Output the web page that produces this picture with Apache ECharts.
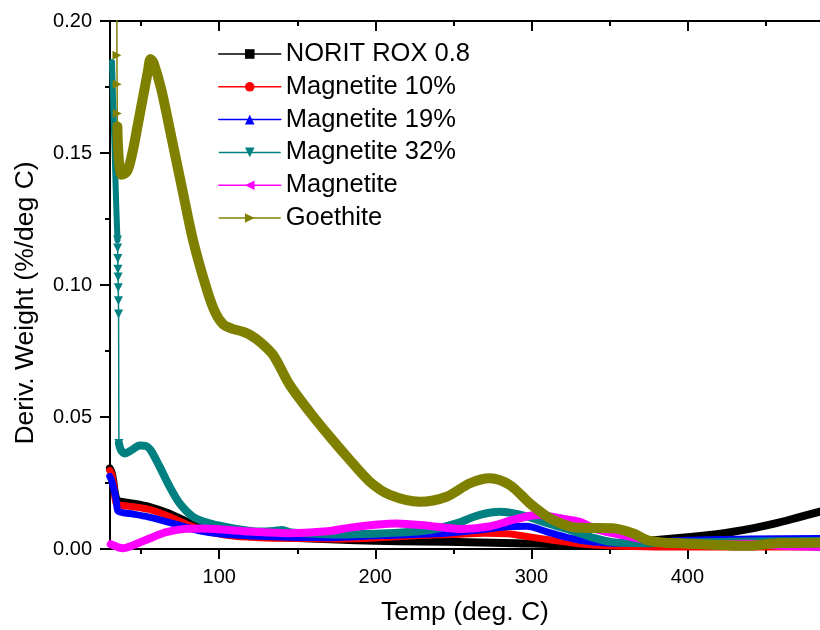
<!DOCTYPE html>
<html>
<head>
<meta charset="utf-8">
<title>DTG curves</title>
<script src="https://cdn.jsdelivr.net/npm/echarts@6/dist/echarts.min.js"></script>
<style>
  html, body { margin: 0; padding: 0; background: #ffffff; }
  #chart { width: 820px; height: 630px; }
</style>
</head>
<body>
<div id="chart"></div>
<script>
// Derivative weight curves, [temperature (deg C), deriv. weight (%/deg C)]
const noritRox08 = [
  [29.8, 0.0305], [31, 0.029], [32, 0.026], [33.2, 0.021], [34.5, 0.0185], [38, 0.0178],
  [45, 0.0172], [55, 0.016], [66, 0.0138], [76, 0.0112], [86, 0.0085], [97, 0.0066],
  [110, 0.0055], [130, 0.0046], [150, 0.0042], [175, 0.0036], [200, 0.0031], [230, 0.0028],
  [260, 0.0026], [290, 0.0022], [320, 0.0018], [350, 0.0019], [375, 0.0031], [400, 0.0045],
  [420, 0.0057], [440, 0.0076], [455, 0.0095], [470, 0.0118], [485, 0.0142]
];

const magnetite10 = [
  [29.8, 0.0298], [31, 0.0285], [32.5, 0.024], [34, 0.0172], [38, 0.0165], [45, 0.016],
  [55, 0.015], [66, 0.0128], [76, 0.0102], [86, 0.0078], [97, 0.006], [110, 0.0048],
  [130, 0.0042], [150, 0.004], [175, 0.0038], [200, 0.0042], [225, 0.005], [250, 0.0055],
  [270, 0.006], [285, 0.0058], [300, 0.0045], [315, 0.0032], [330, 0.002], [350, 0.0012],
  [380, 0.0008], [420, 0.0008], [485, 0.0008]
];

const magnetite19 = [
  [29.8, 0.0275], [31, 0.026], [32.5, 0.0225], [34, 0.0185], [35, 0.0145], [38, 0.0138],
  [45, 0.0132], [55, 0.0121], [66, 0.0104], [77, 0.0086], [88, 0.0068], [100, 0.0058],
  [110, 0.0053], [130, 0.0047], [150, 0.0044], [171, 0.0043], [200, 0.005], [225, 0.0055],
  [245, 0.006], [267, 0.0072], [286, 0.0085], [297, 0.0086], [310, 0.0065], [322, 0.0045],
  [335, 0.003], [352, 0.0022], [375, 0.0025], [400, 0.0033], [440, 0.0038], [485, 0.004]
];

// Magnetite 32%: dense fall, sparse readings, then the main curve
const magnetite32Fall = [
  [31.3, 0.1845], [32, 0.17], [33, 0.15], [34, 0.13], [34.8, 0.117]
];
const magnetite32Sparse = [
  [34.8, 0.117], [34.9, 0.114], [35, 0.110], [35.1, 0.106], [35.2, 0.103],
  [35.3, 0.099], [35.4, 0.094], [35.5, 0.089], [35.7, 0.040]
];
const magnetite32 = [
  [35.7, 0.040], [37, 0.0375], [39.4, 0.0362], [44, 0.0375], [49, 0.0392], [53, 0.039],
  [56, 0.0375], [61.8, 0.0312], [68.2, 0.0236], [74.6, 0.0173], [83.2, 0.0122],
  [93.9, 0.0097], [108.9, 0.0078], [123.9, 0.0066], [135, 0.0068], [140, 0.0072],
  [145, 0.0064], [155, 0.006], [175, 0.0055], [200, 0.0058], [215, 0.0062], [235, 0.0072],
  [252, 0.0097], [267, 0.0129], [280, 0.0141], [292.7, 0.013], [307.7, 0.0103],
  [324.8, 0.0072], [340, 0.0042], [352, 0.0026], [370, 0.0022], [400, 0.0025],
  [440, 0.0028], [485, 0.003]
];

const magnetite = [
  [30.5, 0.0018], [33, 0.0012], [36, 0.0005], [38.5, 0.0003], [42, 0.0008], [48, 0.0022],
  [55.4, 0.004], [66, 0.0064], [79, 0.0077], [90, 0.0078], [98, 0.0076], [110, 0.007],
  [120, 0.0066], [143, 0.006], [162, 0.0064], [171, 0.0068], [184, 0.0081], [200, 0.0092],
  [214, 0.0097], [235, 0.0087], [256, 0.0076], [273, 0.0085], [288, 0.011], [300, 0.0127],
  [305, 0.0129], [320, 0.0115], [331, 0.0103], [342, 0.0074], [363, 0.0047], [374, 0.0034],
  [390, 0.0022], [410, 0.0017], [440, 0.002], [460, 0.0012], [485, 0.0008]
];

// Goethite: sparse first readings, then the main curve
const goethiteSparse = [
  [34.3, 0.23], [34.45, 0.187], [34.55, 0.176], [34.65, 0.165], [34.75, 0.160]
];
const goethite = [
  [34.75, 0.160], [34.9, 0.156], [35.2, 0.152], [35.6, 0.148], [36.3, 0.144], [37.5, 0.1418],
  [39.5, 0.1422], [41.5, 0.1436], [44.7, 0.151], [47.9, 0.161], [51.1, 0.171], [54.3, 0.181],
  [56, 0.1856], [58, 0.184], [62.9, 0.174], [69.7, 0.155], [76.4, 0.136], [83.2, 0.117],
  [92.2, 0.098], [97.5, 0.0895], [102.4, 0.0852], [108, 0.0835], [115.3, 0.0823],
  [120, 0.081], [126, 0.0785], [134.5, 0.0735], [145.2, 0.0621], [158, 0.0519],
  [170.9, 0.0425], [183.7, 0.0337], [196.5, 0.0255], [209.4, 0.0205], [228.6, 0.0179],
  [245.7, 0.0198], [260.7, 0.0249], [273.5, 0.0268], [286.3, 0.0242], [299, 0.0173],
  [312, 0.0116], [324.8, 0.0085], [335, 0.008], [352, 0.0079], [365, 0.006], [374, 0.0034],
  [385, 0.0024], [395, 0.0022], [416, 0.0016], [438, 0.0012], [459, 0.0023], [485, 0.0024]
];

const xMajorTicks = [100, 200, 300, 400];
const xMinorTicks = [50, 150, 250, 350, 450];
const legendNames = ['NORIT ROX 0.8', 'Magnetite 10%', 'Magnetite 19%', 'Magnetite 32%', 'Magnetite', 'Goethite'];

const FONT = "'Liberation Sans', Arial, Helvetica, sans-serif";
const X_MIN = 30, X_MAX = 485;

const SYM_RIGHT = 'path://M0,0L10,5L0,10Z';
const SYM_LEFT = 'path://M10,0L0,5L10,10Z';
const SYM_DOWN = 'path://M0,0L10,0L5,10Z';

function xAxisDef(position, ticks, len, inside, withLine, withLabels, name) {
  return {
    type: 'value', position: position, min: X_MIN, max: X_MAX,
    name: name || '', nameLocation: 'middle', nameGap: 50,
    nameTextStyle: { fontFamily: FONT, fontSize: 26.5, color: '#000' },
    axisLine: { show: withLine, onZero: false, lineStyle: { color: '#000', width: 2 } },
    axisTick: { show: true, inside: inside, length: len, customValues: ticks, lineStyle: { color: '#000', width: 2 } },
    axisLabel: { show: withLabels, customValues: ticks, margin: 18, fontFamily: FONT, fontSize: 20, color: '#000' },
    splitLine: { show: false }
  };
}

function thick(name, data, color, symbol, width) {
  return {
    name: name, type: 'line', data: data, symbol: symbol, symbolSize: 9, showSymbol: false,
    smooth: 0.3,
    lineStyle: { color: color, width: width, cap: 'round', join: 'round' },
    itemStyle: { color: color }, emphasis: { disabled: true }
  };
}

function sparse(name, data, color, symbol) {
  return {
    name: name, type: 'line', data: data, symbol: symbol, symbolSize: 9, showSymbol: true,
    lineStyle: { color: color, width: 1.5 },
    itemStyle: { color: color }, emphasis: { disabled: true }
  };
}

const chart = echarts.init(document.getElementById('chart'), null, { renderer: 'canvas' });

chart.setOption({
  animation: false,
  backgroundColor: '#ffffff',
  grid: { left: 110, right: 0, top: 21, bottom: 81, containLabel: false, outerBoundsMode: 'none' },
  legend: {
    data: legendNames, orient: 'vertical', left: 218, top: 41, padding: 0,
    itemWidth: 62, itemHeight: 12, itemGap: 6.8,
    textStyle: { fontFamily: FONT, fontSize: 25.5, color: '#000', lineHeight: 25 },
    lineStyle: { width: 1.5 },
    selectedMode: false
  },
  xAxis: [
    xAxisDef('bottom', xMajorTicks, 10, false, true, true, 'Temp (deg. C)'),
    xAxisDef('bottom', xMinorTicks, 5, false, false, false),
    xAxisDef('top', xMajorTicks, 10, true, true, false),
    xAxisDef('top', xMinorTicks, 5, true, false, false)
  ],
  yAxis: {
    type: 'value', min: 0, max: 0.2, interval: 0.05,
    name: 'Deriv. Weight (%/deg C)', nameLocation: 'middle', nameGap: 71,
    nameTextStyle: { fontFamily: FONT, fontSize: 26.5, color: '#000', padding: [0, 36, 0, 0] },
    axisLine: { show: true, lineStyle: { color: '#000', width: 2 } },
    axisTick: { show: true, length: 10, lineStyle: { color: '#000', width: 2 } },
    minorTick: { show: true, splitNumber: 2, length: 5, lineStyle: { color: '#000', width: 2 } },
    axisLabel: { margin: 18, fontFamily: FONT, fontSize: 20, color: '#000', formatter: v => v.toFixed(2) },
    splitLine: { show: false }
  },
  series: [
    sparse('Magnetite 32%', magnetite32Sparse, '#008080', SYM_DOWN),
    sparse('Goethite', goethiteSparse, '#808000', SYM_RIGHT),
    thick('NORIT ROX 0.8', noritRox08, '#000000', 'rect', 8),
    thick('Magnetite 10%', magnetite10, '#ff0000', 'circle', 7),
    thick('Magnetite 19%', magnetite19, '#0000ff', 'triangle', 7),
    thick('Magnetite 32%', magnetite32Fall, '#008080', SYM_DOWN, 6),
    thick('Magnetite 32%', magnetite32, '#008080', SYM_DOWN, 8),
    thick('Magnetite', magnetite, '#ff00ff', SYM_LEFT, 8),
    thick('Goethite', goethite, '#808000', SYM_RIGHT, 10)
  ]
});
</script>
</body>
</html>
